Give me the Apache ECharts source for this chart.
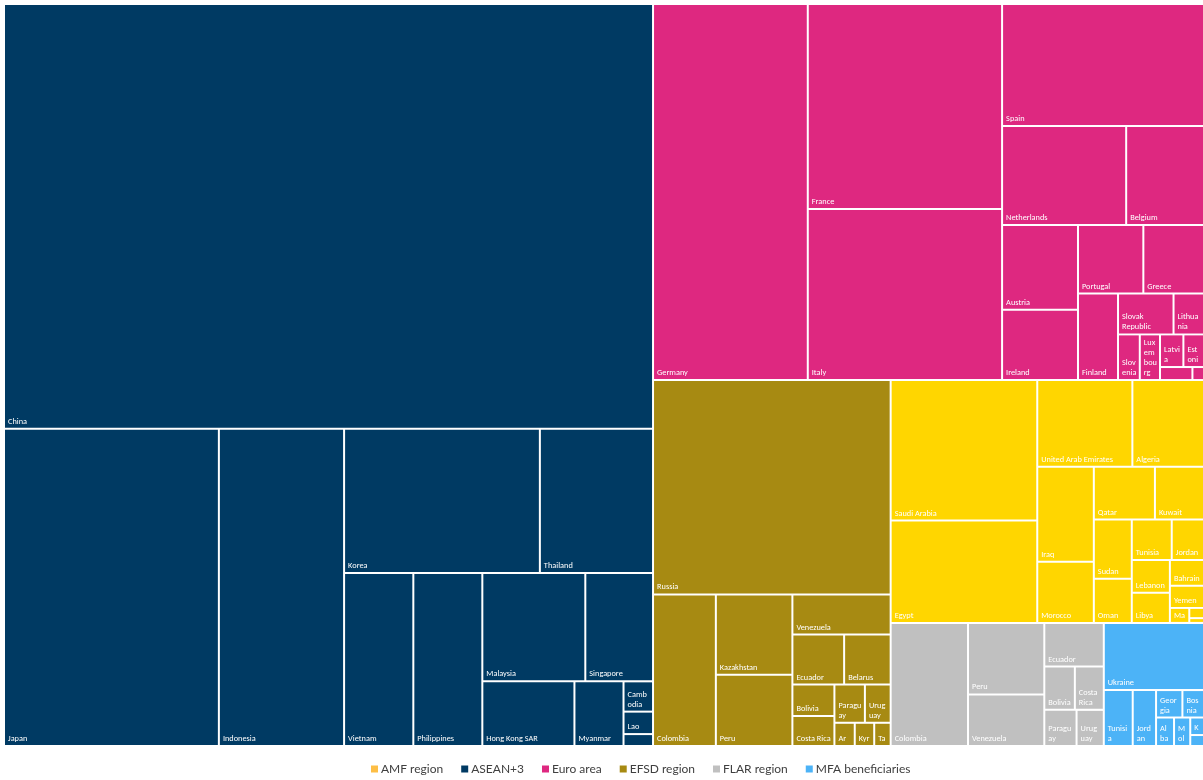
<!DOCTYPE html>
<html>
<head>
<meta charset="utf-8">
<script src="https://cdn.jsdelivr.net/npm/echarts@6/dist/echarts.min.js"></script>
<style>
  html, body { margin: 0; padding: 0; background: #ffffff; }
  #chart { width: 1203px; height: 780px; }
</style>
</head>
<body>
<div id="chart"></div>
<script>
// ---------------- DATA (area units) ----------------
const groupNames = ['ASEAN+3', 'Euro area', 'EFSD region', 'AMF region', 'FLAR region', 'MFA beneficiaries'];

const aseanCountries = ['China', 'Japan', 'Indonesia', 'Korea', 'Thailand', 'Vietnam', 'Philippines', 'Malaysia', 'Singapore', 'Hong Kong SAR', 'Myanmar', 'Cambodia', 'Lao P.D.R.', 'Brunei Darussalam'];
const aseanValues    = [2744.3, 678.9, 395.6, 281.5, 162.7, 119.2, 118.8, 111.0, 73.0, 59.3, 31.6, 8.9, 6.6, 3.5];

const euroCountries = ['Germany', 'France', 'Italy', 'Spain', 'Netherlands', 'Belgium', 'Austria', 'Ireland', 'Portugal', 'Greece', 'Finland', 'Slovak Republic', 'Lithuania', 'Slovenia', 'Luxembourg', 'Latvia', 'Estonia', 'Cyprus', 'Malta'];
const euroValues    = [579.4, 396.7, 330.8, 245.5, 122.3, 76.7, 63.9, 53.2, 44.5, 41.3, 34.5, 22.6, 12.4, 9.9, 9.2, 7.6, 6.7, 4.2, 1.5];

const efsdCountries = ['Russia', 'Colombia', 'Kazakhstan', 'Peru', 'Venezuela', 'Ecuador', 'Belarus', 'Bolivia', 'Costa Rica', 'Paraguay', 'Uruguay', 'Armenia', 'Kyrgyz Republic', 'Tajikistan'];
const efsdValues    = [507.2, 94.8, 61.2, 54.3, 39.2, 25.8, 23.2, 13.2, 12.5, 11.6, 9.8, 4.7, 4.5, 3.8];

const amfCountries = ['Saudi Arabia', 'Egypt', 'United Arab Emirates', 'Algeria', 'Iraq', 'Morocco', 'Qatar', 'Kuwait', 'Sudan', 'Oman', 'Tunisia', 'Jordan', 'Lebanon', 'Libya', 'Bahrain', 'Yemen', 'Mauritania', 'Somalia', 'Djibouti'];
const amfValues    = [205.1, 149.4, 82.2, 61.9, 53.4, 34.5, 32.0, 25.7, 22.4, 16.7, 16.1, 13.0, 12.5, 11.4, 8.8, 7.5, 2.9, 1.5, 0.7];

const flarCountries = ['Colombia', 'Peru', 'Venezuela', 'Ecuador', 'Bolivia', 'Costa Rica', 'Paraguay', 'Uruguay'];
const flarValues    = [94.8, 54.3, 39.2, 25.8, 13.2, 12.5, 11.6, 9.8];

const mfaCountries = ['Ukraine', 'Tunisia', 'Jordan', 'Georgia', 'Bosnia and Herzegovina', 'Albania', 'Moldova', 'Kosovo', 'Montenegro'];
const mfaValues    = [67.0, 16.1, 13.0, 7.2, 5.9, 5.1, 4.6, 2.4, 1.5];

const legendLabels = ['AMF region', 'ASEAN+3', 'Euro area', 'EFSD region', 'FLAR region', 'MFA beneficiaries'];

// ---------------- STYLES ----------------
const groupColors  = ['#003A63', '#DE2880', '#A78A12', '#FFD600', '#C0C0C0', '#4CB3F7'];
const legendColors = ['#FDBE45', '#003A63', '#DE2880', '#A78A12', '#C0C0C0', '#4CB3F7'];

// ---------------- BUILD ----------------
const members = [
  [aseanCountries, aseanValues],
  [euroCountries, euroValues],
  [efsdCountries, efsdValues],
  [amfCountries, amfValues],
  [flarCountries, flarValues],
  [mfaCountries, mfaValues]
];

const treeData = groupNames.map(function (g, gi) {
  return {
    name: g,
    itemStyle: { color: groupColors[gi] },
    children: members[gi][0].map(function (n, i) {
      return { name: n, value: members[gi][1][i], itemStyle: { color: groupColors[gi] } };
    })
  };
});

// legend drawn as graphic elements (treemap has no per-node legend)
const legendFont = '12px Lato, sans-serif';
const measureCtx = document.createElement('canvas').getContext('2d');
measureCtx.font = legendFont;
const legendChildren = [];
let lx = 371;
const ly = 769;
legendLabels.forEach(function (t, i) {
  legendChildren.push({ type: 'rect', shape: { x: lx, y: ly - 3.5, width: 7, height: 7 }, style: { fill: legendColors[i] } });
  legendChildren.push({ type: 'text', style: { x: lx + 10, y: ly, text: t, font: legendFont, fill: '#404040', verticalAlign: 'middle', align: 'left' } });
  lx += 10 + measureCtx.measureText(t).width + 18;
});

const chart = echarts.init(document.getElementById('chart'), null, { renderer: 'canvas' });
chart.setOption({
  animation: false,
  backgroundColor: '#ffffff',
  series: [{
    type: 'treemap',
    left: 5, top: 5, right: 0, bottom: 35,
    squareRatio: 0.795,
    roam: false,
    nodeClick: false,
    breadcrumb: { show: false },
    label: {
      show: true,
      position: 'insideBottomLeft',
      distance: 0,
      color: '#ffffff',
      fontFamily: 'Carlito, Lato, sans-serif',
      fontSize: 8.3,
      lineHeight: 10,
      padding: [1, 2, 1, 3],
      overflow: 'break',
      lineOverflow: 'truncate'
    },
    upperLabel: { show: false },
    itemStyle: { borderColor: '#ffffff', borderWidth: 0, gapWidth: 2 },
    levels: [
      { itemStyle: { borderWidth: 0, gapWidth: 2, borderColor: '#ffffff' } },
      { itemStyle: { borderWidth: 0, gapWidth: 2, borderColor: '#ffffff' } },
      { itemStyle: { borderWidth: 0, gapWidth: 0 } }
    ],
    data: treeData
  }],
  graphic: [{ type: 'group', children: legendChildren }]
});
</script>
</body>
</html>
